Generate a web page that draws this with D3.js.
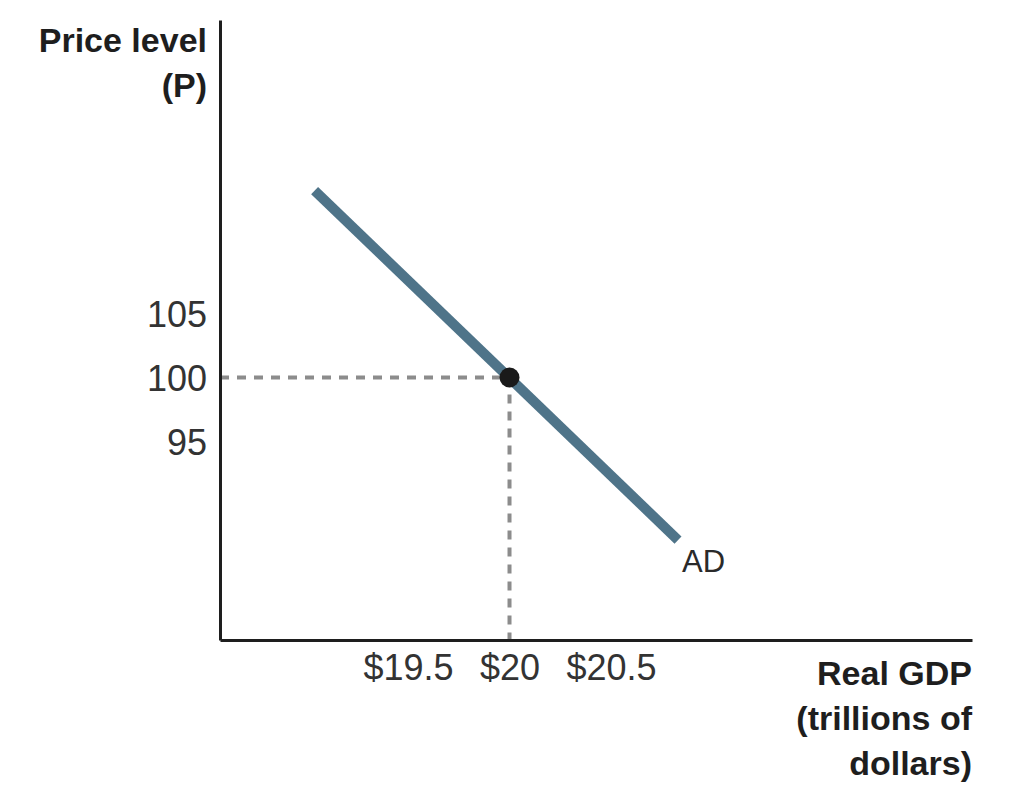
<!DOCTYPE html>
<html>
<head>
<meta charset="utf-8">
<script src="https://cdn.jsdelivr.net/npm/d3@7"></script>
<style>
  body { margin: 0; background: #fff; }
  text { font-family: "Liberation Sans", Arial, sans-serif; }
  .axis-title { font-weight: bold; font-size: 34px; fill: #1e1e1e; }
  .tick-label { font-size: 36px; fill: #333; }
</style>
</head>
<body>
<div id="chart"></div>
<script>
const width = 1024, height = 810;

// data
const priceTicks = [95, 100, 105];
const gdpTicks = [19.5, 20, 20.5];
const gdpTickLabels = ["$19.5", "$20", "$20.5"];
const adCurve = [
    {gdp: 19.04, p: 114.6},
    {gdp: 20.83, p: 87.3}
];
const equilibrium = {gdp: 20, p: 100};

const svg = d3.select("#chart")
    .append("svg")
    .attr("width", width)
    .attr("height", height)
    .attr("viewBox", `0 0 ${width} ${height}`);

const xScale = d3.scaleLinear()
    .domain([18.574, 22.278])
    .range([220, 972]);

const yScale = d3.scaleLinear()
    .domain([79.49, 127.93])
    .range([640, 20]);

//dashed guides to the equilibrium point
svg.append("line")
    .attr("x1", xScale.range()[0])
    .attr("x2", xScale(equilibrium.gdp))
    .attr("y1", yScale(equilibrium.p))
    .attr("y2", yScale(equilibrium.p))
    .attr("stroke", "#8c8c8c")
    .attr("stroke-width", 4)
    .attr("stroke-dasharray", "9,8");

svg.append("line")
    .attr("x1", xScale(equilibrium.gdp))
    .attr("x2", xScale(equilibrium.gdp))
    .attr("y1", yScale(equilibrium.p))
    .attr("y2", yScale.range()[0])
    .attr("stroke", "#8c8c8c")
    .attr("stroke-width", 4)
    .attr("stroke-dasharray", "9,8");

//AD curve
const line = d3.line()
    .x(d => xScale(d.gdp))
    .y(d => yScale(d.p));

svg.append("path")
    .datum(adCurve)
    .attr("fill", "none")
    .attr("stroke", "#4f7489")
    .attr("stroke-width", 10)
    .attr("d", line);

svg.append("circle")
    .attr("cx", xScale(equilibrium.gdp))
    .attr("cy", yScale(equilibrium.p))
    .attr("r", 10)
    .attr("fill", "#1a1a1a");

svg.append("text")
    .text("AD")
    .attr("x", xScale(adCurve[1].gdp) + 4)
    .attr("y", yScale(adCurve[1].p) + 32)
    .attr("font-size", 31)
    .attr("fill", "#2a2a2a");

//axes
const leftAxis = d3.axisLeft(yScale)
    .tickValues(priceTicks)
    .tickSize(0)
    .tickPadding(13);

const bottomAxis = d3.axisBottom(xScale)
    .tickValues(gdpTicks)
    .tickFormat((d, i) => gdpTickLabels[i])
    .tickSize(0)
    .tickPadding(14);

const gy = svg.append("g")
    .attr("transform", `translate(${xScale.range()[0]}, 0)`)
    .call(leftAxis);

const gx = svg.append("g")
    .attr("transform", `translate(0, ${yScale.range()[0]})`)
    .call(bottomAxis);

[gx, gy].forEach(g => {
    g.select(".domain").attr("stroke", "#1e1e1e").attr("stroke-width", 3);
    g.selectAll(".tick text")
        .attr("class", "tick-label")
        .attr("font-family", null)
        .attr("font-size", null)
        .attr("fill", null);
});
gy.selectAll(".tick text").attr("dy", "0.36em");
gx.selectAll(".tick text").attr("dy", "0.72em");

//axis titles
const yTitle = ["Price level", "(P)"];
svg.selectAll(".ytitle")
    .data(yTitle)
    .join("text")
    .attr("class", "axis-title")
    .attr("text-anchor", "end")
    .attr("x", 207)
    .attr("y", (d, i) => 52 + i * 45)
    .text(d => d);

const xTitle = ["Real GDP", "(trillions of", "dollars)"];
svg.selectAll(".xtitle")
    .data(xTitle)
    .join("text")
    .attr("class", "axis-title")
    .attr("text-anchor", "end")
    .attr("x", 972)
    .attr("y", (d, i) => 685 + i * 45)
    .text(d => d);
</script>
</body>
</html>
